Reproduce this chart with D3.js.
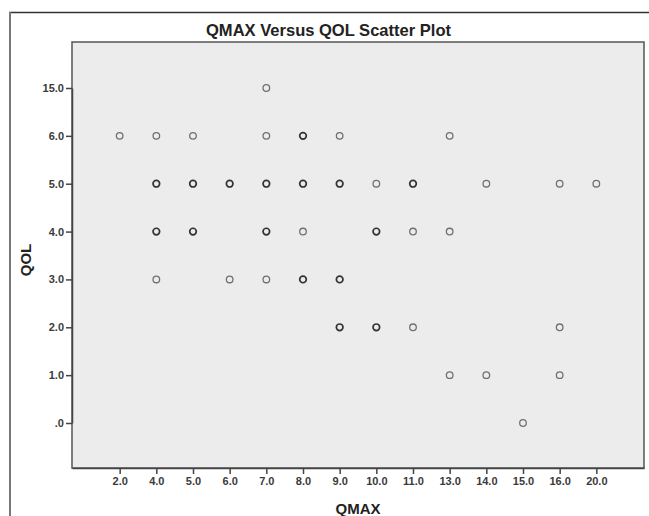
<!DOCTYPE html>
<html>
<head>
<meta charset="utf-8">
<script src="https://cdn.jsdelivr.net/npm/d3@7"></script>
<style>
  body { margin: 0; background: #fff; }
  svg { display: block; font-family: "Liberation Sans", Arial, sans-serif; }
</style>
</head>
<body>
<div id="chart"></div>
<script>
// Catégories des axes (échelles catégorielles comme dans SPSS)
const qmaxCategories = ["2.0", "4.0", "5.0", "6.0", "7.0", "8.0", "9.0", "10.0", "11.0", "13.0", "14.0", "15.0", "16.0", "20.0"];
const qolCategories = [".0", "1.0", "2.0", "3.0", "4.0", "5.0", "6.0", "15.0"];

// Points observés : QMAX, QOL et nombre de cas superposés (plus foncé si > 1)
const qmaxValues = [
  "7.0",
  "2.0", "4.0", "5.0", "7.0", "8.0", "9.0", "13.0",
  "4.0", "5.0", "6.0", "7.0", "8.0", "9.0", "10.0", "11.0", "14.0", "16.0", "20.0",
  "4.0", "5.0", "7.0", "8.0", "10.0", "11.0", "13.0",
  "4.0", "6.0", "7.0", "8.0", "9.0",
  "9.0", "10.0", "11.0", "16.0",
  "13.0", "14.0", "16.0",
  "15.0"
];
const qolValues = [
  "15.0",
  "6.0", "6.0", "6.0", "6.0", "6.0", "6.0", "6.0",
  "5.0", "5.0", "5.0", "5.0", "5.0", "5.0", "5.0", "5.0", "5.0", "5.0", "5.0",
  "4.0", "4.0", "4.0", "4.0", "4.0", "4.0", "4.0",
  "3.0", "3.0", "3.0", "3.0", "3.0",
  "2.0", "2.0", "2.0", "2.0",
  "1.0", "1.0", "1.0",
  ".0"
];
const caseCounts = [
  1,
  1, 1, 1, 1, 2, 1, 1,
  2, 2, 3, 3, 2, 2, 1, 2, 1, 1, 1,
  2, 2, 2, 1, 2, 1, 1,
  1, 1, 1, 2, 2,
  2, 2, 1, 1,
  1, 1, 1,
  1
];

const width = 649;
const height = 516;
const plot = { left: 72, top: 42, right: 644, bottom: 468 };

const svg = d3.select("#chart").append("svg")
    .attr("width", width)
    .attr("height", height);

// Cadre extérieur (bord haut foncé, bord gauche gris)
svg.append("line")
    .attr("x1", 9).attr("x2", width)
    .attr("y1", 12.5).attr("y2", 12.5)
    .attr("stroke", "#333")
    .attr("stroke-width", 1.5);
svg.append("line")
    .attr("x1", 10).attr("x2", 10)
    .attr("y1", 12).attr("y2", height)
    .attr("stroke", "#777")
    .attr("stroke-width", 2);

// Fond de la zone de tracé
svg.append("rect")
    .attr("x", plot.left)
    .attr("y", plot.top)
    .attr("width", plot.right - plot.left)
    .attr("height", plot.bottom - plot.top)
    .attr("fill", "#ececec")
    .attr("stroke", "#555")
    .attr("stroke-width", 1.5);

// Échelles
const x = d3.scalePoint()
    .domain(qmaxCategories)
    .range([plot.left, plot.right])
    .padding(1.3);

const y = d3.scalePoint()
    .domain(qolCategories)
    .range([plot.bottom - 45, plot.top + 46]);

// Axes
const xAxis = svg.append("g")
    .attr("transform", `translate(0, ${plot.bottom})`)
    .call(d3.axisBottom(x).tickSize(6).tickSizeOuter(0).tickPadding(3));

const yAxis = svg.append("g")
    .attr("transform", `translate(${plot.left}, 0)`)
    .call(d3.axisLeft(y).tickSize(6).tickSizeOuter(0).tickPadding(2));

[xAxis, yAxis].forEach(g => {
    g.select(".domain").attr("stroke", "#444").attr("stroke-width", 1.5);
    g.selectAll(".tick line").attr("stroke", "#444").attr("stroke-width", 1.5);
    g.selectAll(".tick text")
        .attr("fill", "#3a3a3a")
        .attr("font-size", "11px")
        .attr("font-weight", "bold")
        .attr("font-family", "'Liberation Sans', Arial, sans-serif");
});

// Points
const points = qmaxValues.map((q, i) => ({ qmax: q, qol: qolValues[i], n: caseCounts[i] }));

svg.append("g").selectAll("circle")
    .data(points)
    .join("circle")
    .attr("cx", d => x(d.qmax))
    .attr("cy", d => y(d.qol))
    .attr("r", 3.3)
    .attr("fill", "none")
    .attr("stroke", d => d.n > 1 ? "#333" : "#707070")
    .attr("stroke-width", d => d.n > 1 ? 1.7 : 1.3);

// Titre
svg.append("text")
    .attr("x", 328.5)
    .attr("y", 36)
    .attr("text-anchor", "middle")
    .attr("font-size", "17px")
    .attr("font-weight", "bold")
    .attr("fill", "#222")
    .attr("textLength", 245)
    .attr("lengthAdjust", "spacingAndGlyphs")
    .text("QMAX Versus QOL Scatter Plot");

// Titres des axes
svg.append("text")
    .attr("x", 358)
    .attr("y", 514)
    .attr("text-anchor", "middle")
    .attr("font-size", "15px")
    .attr("font-weight", "bold")
    .attr("fill", "#222")
    .text("QMAX");

svg.append("text")
    .attr("transform", `translate(31, ${(plot.top + plot.bottom) / 2 + 5}) rotate(-90)`)
    .attr("text-anchor", "middle")
    .attr("font-size", "15px")
    .attr("font-weight", "bold")
    .attr("fill", "#222")
    .text("QOL");
</script>
</body>
</html>
